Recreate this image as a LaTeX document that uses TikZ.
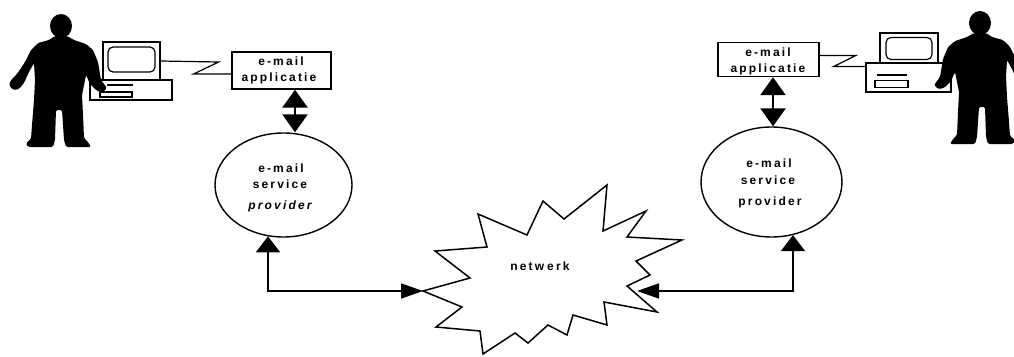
\documentclass[tikz,border=0pt]{standalone}
\usepackage{fontspec}
\newfontfamily\lblfont{Liberation Sans}[LetterSpace=18]
\usetikzlibrary{arrows.meta,shapes.geometric}
% silhouette of a standing user, drawn in local pixel coordinates
\newcommand\usersilhouette{%
  \fill[black,rounded corners=1.5pt]
    (55,36) -- (49,40) -- (38,43) -- (31,50) -- (25,62) -- (17,74)
    -- (11,80) -- (9,85) -- (13,90) -- (19,89) -- (24,83) -- (29,72)
    -- (34,63) -- (35,80) -- (34,100) -- (32,125) -- (31,139)
    -- (26,143) -- (28,147) -- (53,147) -- (55,140) -- (56,110)
    -- (62,110) -- (64,140) -- (66,147) -- (91,147) -- (88,142)
    -- (84,138) -- (83,115) -- (82,95) -- (86,75) -- (90,84)
    -- (97,91) -- (103,92) -- (107,88) -- (101,80) -- (98,62)
    -- (93,50) -- (86,44) -- (74,40) -- (67,36) -- cycle;
  \fill[black] (61,26) ellipse [x radius=11, y radius=12];}
\begin{document}
\begin{tikzpicture}[x=1pt,y=-1pt,
  outline/.style={draw=black,line width=1.4pt},
  appbox/.style={outline,rectangle,inner sep=0pt},
  spbox/.style={outline,ellipse,inner sep=0pt},
  pcpart/.style={draw=black,line width=1.2pt,rectangle,inner sep=0pt},
  screen/.style={pcpart,rounded corners=5pt},
  lbl/.style={font=\lblfont\bfseries\fontsize{12}{14}\selectfont,inner sep=0pt},
  wire/.style={draw=black,line width=1.2pt,line join=miter},
  dbl/.style={draw=black,line width=2.6pt,
    {Triangle[length=18pt,width=25pt]}-{Triangle[length=18pt,width=25pt]}},
  link/.style={draw=black,line width=1.5pt,
    {Triangle[length=16pt,width=24pt]}-{Triangle[length=22pt,width=15pt]}}]
\useasboundingbox (0,0) rectangle (1014,356);

% ---- left workstation ----
\node[pcpart,minimum width=57pt,minimum height=38pt] (lmon) at (131.5,61) {};
\node[screen,minimum width=47pt,minimum height=25pt] (lscr) at (131.5,59.5) {};
\node[pcpart,minimum width=82pt,minimum height=20pt] (lbase) at (131,90) {};
\node[pcpart,minimum width=32pt,minimum height=5pt] (lslot) at (116,94.5) {};
\draw[line width=1.2pt] (107,85) -- (133,85);
\begin{scope}
  \usersilhouette
\end{scope}

% ---- right workstation ----
\node[pcpart,minimum width=58pt,minimum height=30pt] (rmon) at (909,48) {};
\node[screen,minimum width=46pt,minimum height=22pt] (rscr) at (909,48.5) {};
\node[pcpart,minimum width=85pt,minimum height=29pt] (rbase) at (908.5,77.5) {};
\node[pcpart,minimum width=33pt,minimum height=7pt] (rslot) at (891.5,84) {};
\draw[line width=1.2pt] (877,75) -- (907,75);
\begin{scope}[xshift=1041pt,yshift=3pt,xscale=-1]
  \usersilhouette
\end{scope}

% ---- e-mail applications ----
\node[appbox,minimum width=99pt,minimum height=37pt] (lapp) at (281.5,70.5) {};
\node[lbl] (lapp1) at (281,61) {e-mail};
\node[lbl] (lapp2) at (279,78) {applicatie};
\node[appbox,minimum width=101pt,minimum height=34pt] (rapp) at (768.5,59.5) {};
\node[lbl] (rapp1) at (768,52) {e-mail};
\node[lbl] (rapp2) at (768,69) {applicatie};

% ---- service providers ----
\node[spbox,minimum width=137pt,minimum height=104pt] (lsp) at (283.5,185) {};
\node[lbl] (lsp1) at (281,168) {e-mail};
\node[lbl] (lsp2) at (280,184) {service};
\node[lbl,font=\lblfont\bfseries\itshape\fontsize{12}{14}\selectfont] (lsp3) at (280,206) {provider};
\node[spbox,minimum width=141pt,minimum height=110pt] (rsp) at (771.5,182) {};
\node[lbl] (rsp1) at (769,163) {e-mail};
\node[lbl] (rsp2) at (768,180) {service};
\node[lbl] (rsp3) at (770,202) {provider};

% ---- network ----
\coordinate (netL) at (423,291);
\coordinate (netR) at (637,291);
\draw[outline,line width=1.5pt,line join=miter,miter limit=20]
  (netL) -- (470,278) -- (435,251) -- (487,247) -- (478,214) -- (527,235)
  -- (543,201) -- (564,219) -- (607,185) -- (603,231) -- (646,211)
  -- (627,237) -- (682,240) -- (636,261) -- (650,275) -- (627,286)
  -- (657,312) -- (604,302) -- (607,325) -- (573,315) -- (567,335)
  -- (548,325) -- (528,343) -- (515,333) -- (483,354) -- (480,331)
  -- (436,327) -- (462,307) -- cycle;
\node[lbl] (net) at (540,266) {netw\kern3pt erk};

% ---- connections ----
\draw[wire] (lmon.east) -- ++(58,1) -- ++(-25,12) coordinate (lz)
  -- (lz -| lapp.west);
\draw[wire] ([yshift=4pt]rapp.east) -- ++(36,0) -- ++(-22,11) coordinate (rz)
  -- (rz -| rbase.west);

\coordinate (la) at (295,0);
\coordinate (ra) at (773,0);
\draw[dbl] (lapp.south -| la) -- (lsp.north -| la);
\draw[dbl] (rapp.south -| ra) -- (rsp.north -| ra);

\coordinate (lc) at (268,291);
\coordinate (rc) at (793,291);
\draw[link] ([yshift=1.4pt]lsp.south -| lc) -- (lc) -- (netL);
\draw[link] ([yshift=2.6pt]rsp.south -| rc) -- (rc) -- (netR);
\end{tikzpicture}
\end{document}
